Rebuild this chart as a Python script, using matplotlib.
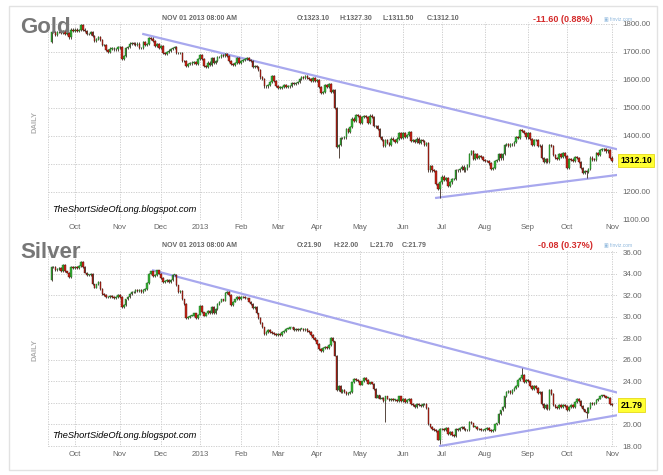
import numpy as np
import matplotlib
matplotlib.use("Agg")
import matplotlib.pyplot as plt
from matplotlib.patches import Rectangle

plt.rcParams['font.family'] = ['Liberation Sans', 'DejaVu Sans']

# trading days per month, Sep 13 2012 .. Nov 1 2013
month_days = [12, 23, 21, 20, 21, 19, 20, 22, 22, 20, 22, 22, 20, 23, 1]
month_labels = ["Oct", "Nov", "Dec", "2013", "Feb", "Mar", "Apr", "May",
                "Jun", "Jul", "Aug", "Sep", "Oct", "Nov"]

# Gold daily closes
gold_first_open = 1735
gold_close = [
    1770, 1772, 1762, 1770, 1772, 1768, 1776, 1764, 1766, 1752, 1780, 1776,
    1780, 1776, 1778, 1796, 1780, 1776, 1764, 1764, 1770, 1757, 1740, 1747,
    1753, 1743, 1724, 1725, 1708, 1701, 1712, 1712, 1709, 1709, 1719,
    1716, 1676, 1685, 1715, 1718, 1730, 1732, 1730, 1725, 1730, 1714, 1714,
    1734, 1726, 1728, 1750, 1748, 1740, 1720, 1728, 1714,
    1720, 1697, 1694, 1700, 1705, 1710, 1715, 1717, 1695, 1696, 1697, 1668,
    1667, 1650, 1657, 1659, 1662, 1663, 1656, 1675,
    1688, 1674, 1649, 1647, 1662, 1654, 1679, 1661, 1669, 1682, 1683, 1688,
    1687, 1692, 1685, 1669, 1658, 1655, 1661, 1678, 1660,
    1667, 1671, 1674, 1677, 1670, 1667, 1648, 1650, 1645, 1635, 1609, 1604,
    1577, 1577, 1581, 1594, 1614, 1596, 1578,
    1572, 1573, 1574, 1583, 1576, 1577, 1579, 1590, 1587, 1590, 1593, 1604,
    1610, 1608, 1614, 1607, 1604, 1596, 1606, 1595,
    1600, 1575, 1553, 1558, 1582, 1575, 1586, 1558, 1564, 1501, 1361, 1368,
    1392, 1392, 1395, 1424, 1414, 1432, 1462, 1453, 1476, 1472,
    1446, 1467, 1470, 1467, 1448, 1473, 1468, 1436, 1434, 1425, 1396, 1386,
    1364, 1384, 1376, 1367, 1391, 1387, 1379, 1391, 1412, 1393,
    1412, 1398, 1403, 1414, 1383, 1384, 1378, 1391, 1375, 1387, 1383, 1368,
    1374, 1277, 1292, 1277, 1274, 1229, 1211, 1234,
    1255, 1243, 1251, 1222, 1234, 1246, 1247, 1278, 1277, 1283, 1291, 1277,
    1284, 1295, 1335, 1347, 1318, 1335, 1322, 1328, 1325, 1313,
    1311, 1310, 1302, 1283, 1286, 1310, 1313, 1334, 1320, 1335, 1367, 1372,
    1366, 1372, 1370, 1378, 1396, 1393, 1420, 1418, 1410, 1395,
    1412, 1389, 1367, 1386, 1386, 1363, 1366, 1322, 1308, 1318, 1308, 1367,
    1365, 1332, 1322, 1317, 1336, 1324, 1338, 1327,
    1286, 1317, 1316, 1310, 1325, 1321, 1306, 1287, 1268, 1275, 1273, 1282,
    1323, 1316, 1315, 1338, 1333, 1349, 1352, 1354, 1345, 1349, 1323,
    1312.1,
]
gold_spike_idx = [147, 199, 274]
gold_spike_low = [1321, 1180, 1251]
gold_upper = ([47, 290], [1764, 1352])
gold_lower = ([197, 290], [1179, 1261])

# Silver daily closes
silver_first_open = 33.4
silver_close = [
    34.6, 34.6, 34.3, 34.4, 34.5, 34.2, 34.8, 34.2, 34.1, 33.7, 34.6, 34.5,
    34.6, 34.5, 34.7, 35.1, 34.6, 34.1, 33.9, 33.9, 34.0, 33.0, 32.7, 33.0,
    33.2, 32.6, 32.1, 32.0, 31.8, 31.8, 31.9, 31.8, 31.7, 31.8, 32.0,
    31.8, 30.9, 31.1, 31.6, 31.8, 32.1, 32.3, 32.3, 32.5, 32.4, 32.5, 32.3,
    32.5, 32.6, 33.1, 34.0, 34.2, 33.8, 33.9, 34.3, 34.0,
    33.6, 33.2, 33.3, 33.4, 33.2, 33.4, 33.9, 33.9, 32.9, 32.3, 32.4, 31.6,
    31.2, 29.9, 30.0, 30.1, 30.1, 30.3, 29.9, 30.2,
    31.0, 30.4, 30.1, 30.3, 30.5, 30.3, 30.9, 30.3, 30.7, 31.2, 31.4, 31.6,
    31.5, 32.2, 32.3, 32.0, 31.1, 31.4, 31.6, 31.8, 31.6,
    31.8, 31.8, 31.7, 31.7, 31.4, 31.2, 30.8, 30.9, 30.3, 29.9, 29.4, 29.0,
    28.4, 28.6, 28.8, 28.6, 28.5, 28.4, 28.3,
    28.4, 28.3, 28.6, 28.7, 28.9, 28.9, 29.0, 29.0, 28.8, 28.9, 28.8, 28.9,
    28.9, 28.8, 28.9, 28.7, 28.6, 28.3, 28.0, 27.8,
    27.5, 27.0, 26.8, 27.1, 27.2, 27.1, 27.4, 28.0, 27.7, 26.4, 23.2, 23.6,
    23.0, 23.2, 23.0, 22.8, 22.9, 23.0, 23.9, 24.2, 24.1, 24.0,
    23.7, 24.0, 24.3, 24.1, 23.8, 23.9, 23.8, 23.3, 22.5, 22.7, 22.4, 22.5,
    22.2, 22.6, 22.4, 22.3, 22.4, 22.3, 22.3, 22.2, 22.6, 22.2,
    22.4, 22.1, 22.3, 22.4, 21.9, 21.8, 21.6, 21.9, 21.8, 21.7, 21.9, 21.9,
    21.5, 20.0, 19.8, 19.6, 19.5, 19.4, 18.6, 19.6,
    19.6, 19.5, 19.7, 19.1, 19.3, 19.0, 18.9, 19.6, 19.5, 19.7, 19.8, 19.6,
    19.5, 19.5, 20.2, 20.1, 19.8, 19.8, 19.6, 19.6, 19.5, 19.5,
    19.6, 19.7, 19.5, 19.4, 19.5, 20.0, 20.1, 21.0, 21.3, 21.6, 22.6, 23.0,
    23.1, 22.9, 23.2, 23.4, 23.6, 24.1, 24.3, 24.6, 23.9, 24.1,
    24.0, 23.6, 23.3, 23.6, 23.4, 22.9, 23.0, 21.9, 21.5, 21.8, 21.4, 23.2,
    22.8, 21.8, 21.6, 21.5, 21.8, 21.6, 21.8, 21.7,
    21.3, 21.6, 21.8, 21.6, 22.1, 22.4, 22.2, 21.7, 21.4, 21.2, 21.1, 21.5,
    22.0, 21.9, 22.0, 22.3, 22.4, 22.6, 22.7, 22.6, 22.5, 22.5, 21.9,
    21.79,
]
silver_spike_idx = [171, 199, 241, 274]
silver_spike_low = [20.2, 18.2, 24.2, 20.6]
silver_spike_high = [22.4, 19.7, 25.2, 21.6]
silver_upper = ([52, 291], [34.3, 22.9])
silver_lower = ([199, 291], [18.0, 20.9])

assert len(gold_close) == sum(month_days) == len(silver_close)
month_starts = np.cumsum(month_days)[:-1]

GREEN = "#35b035"
RED = "#cc2418"
TREND = "#a8a8ee"
GRID = "#c8c8c8"


def draw_candles(ax, first_open, close, pad, spike_idx, spike_low, spike_high=None):
    close = np.array(close, dtype=float)
    opens = np.concatenate([[first_open], close[:-1]])
    x = np.arange(len(close))
    high = np.maximum(opens, close) + pad
    low = np.minimum(opens, close) - pad
    for k, i in enumerate(spike_idx):
        low[i] = min(low[i], spike_low[k])
        if spike_high is not None:
            high[i] = max(high[i], spike_high[k])
    ax.vlines(x, low, high, color="#3a2a20", lw=0.6, zorder=3)
    up = close >= opens
    body = np.maximum(np.abs(close - opens), pad * 0.3)
    bottom = np.minimum(opens, close)
    ax.bar(x[up], body[up], bottom=bottom[up], width=0.8, color=GREEN,
           edgecolor="#1e6e1e", lw=0.3, zorder=4)
    ax.bar(x[~up], body[~up], bottom=bottom[~up], width=0.8, color=RED,
           edgecolor="#4a1008", lw=0.3, zorder=4)


def style_axis(ax, ylim, yticks, hidden):
    ax.set_xlim(-1.8, 289.6)
    ax.set_ylim(*ylim)
    for s in ax.spines.values():
        s.set_visible(False)
    ax.set_xticks(month_starts)
    ax.set_xticklabels(month_labels)
    ax.set_yticks(yticks)
    # the label behind the last-price tag is not shown
    ax.set_yticklabels(["" if v == hidden else "%.2f" % v for v in yticks])
    ax.yaxis.tick_right()
    ax.tick_params(length=0, labelsize=5.7, colors="#666666", pad=3)
    ax.tick_params(axis="y", pad=4)
    ax.grid(True, color=GRID, linestyle=(0, (1.5, 1.5)), lw=0.6)
    ax.axvline(-1.8, color=GRID, linestyle=(0, (1.5, 1.5)), lw=0.6)
    ax.set_axisbelow(True)


fig = plt.figure(figsize=(6.63, 4.75), dpi=100)
fig.patches.append(Rectangle((9 / 663, 1 - 470 / 475), 648 / 663, 464 / 475,
                             transform=fig.transFigure, fill=False,
                             edgecolor="#e2e2e2", lw=1))

ax1 = fig.add_axes([48 / 663, 1 - 220 / 475, 569 / 663, 198 / 475])
ax2 = fig.add_axes([48 / 663, 1 - 447 / 475, 569 / 663, 197 / 475])

# Gold panel
draw_candles(ax1, gold_first_open, gold_close, 4, gold_spike_idx, gold_spike_low)
ax1.plot(*gold_upper, color=TREND, lw=1.6, zorder=2)
ax1.plot(*gold_lower, color=TREND, lw=1.6, zorder=2)
style_axis(ax1, (1100, 1807), np.arange(1100, 1801, 100), 1300)

# Silver panel
draw_candles(ax2, silver_first_open, silver_close, 0.08, silver_spike_idx,
             silver_spike_low, silver_spike_high)
ax2.plot(*silver_upper, color=TREND, lw=1.6, zorder=2)
ax2.plot(*silver_lower, color=TREND, lw=1.6, zorder=2)
style_axis(ax2, (17.91, 36.19), np.arange(18, 37, 2), 22)

# last price tags
for ax, val in [(ax1, gold_close[-1]), (ax2, silver_close[-1])]:
    ax.text(1.006, val, "%.2f" % val, transform=ax.get_yaxis_transform(),
            fontsize=6.3, fontweight="bold", va="center", ha="left",
            bbox=dict(boxstyle="square,pad=0.25", fc="#ffff33", ec="#e0d000", lw=0.5))


# headers
def header(ypx, name, name_base, ohlc, xs, change):
    fig.text(20 / 663, 1 - name_base / 475, name, fontsize=16, fontweight="bold",
             color="#777777", va="baseline")
    y = 1 - ypx / 475
    fig.text(162 / 663, y, "NOV 01 2013 08:00 AM", fontsize=5, color="#666666",
             fontweight="bold", va="center")
    for xp, t in zip(xs, ohlc):
        fig.text(xp / 663, y, t, fontsize=5, color="#666666", fontweight="bold", va="center")
    fig.text(593 / 663, y, change, fontsize=6.5, color="#d42a2a", fontweight="bold",
             va="center", ha="right")
    fig.text(604 / 663, y, "\u25a3 finviz.com", fontsize=3.5, color="#8fb8dd", va="center")


header(19, "Gold", 33, ["O:1323.10", "H:1327.30", "L:1311.50", "C:1312.10"],
       [297, 340, 383, 427], "-11.60 (0.88%)")
header(245, "Silver", 258, ["O:21.90", "H:22.00", "L:21.70", "C:21.79"],
       [297, 333, 370, 402], "-0.08 (0.37%)")

for ycen in [122, 350]:
    fig.text(35 / 663, 1 - ycen / 475, "DAILY", rotation=90, fontsize=5.5,
             fontweight="bold", color="#b0b0b0", ha="center", va="center")

for ycen in [210, 436]:
    fig.text(52 / 663, 1 - ycen / 475, "TheShortSideOfLong.blogspot.com",
             fontsize=6.7, style="italic", color="black", va="center")

fig.savefig("out.png", dpi=100)
